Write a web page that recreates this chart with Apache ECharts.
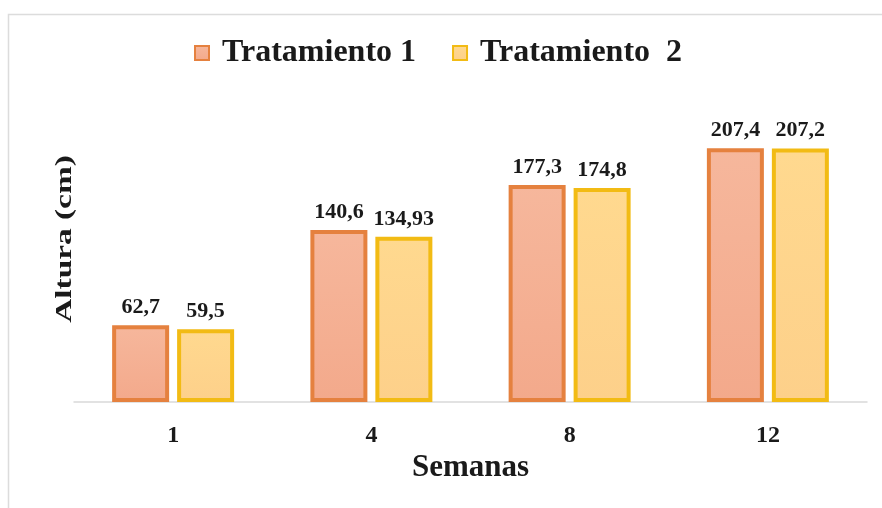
<!DOCTYPE html>
<html>
<head>
<meta charset="utf-8">
<script src="https://cdn.jsdelivr.net/npm/echarts@6/dist/echarts.min.js"></script>
<style>html,body{margin:0;padding:0;background:#fff;}#c{width:882px;height:508px;}</style>
</head>
<body>
<div id="c"></div>
<script>
var categories = ['1', '4', '8', '12'];
var seriesNames = ['Tratamiento 1', 'Tratamiento  2'];
var tratamiento1 = [62.7, 140.6, 177.3, 207.4];
var tratamiento2 = [59.5, 134.93, 174.8, 207.2];

var serif = '"Liberation Serif", "Times New Roman", serif';
var chart = echarts.init(document.getElementById('c'));
function lbl(p) { return String(p.value).replace('.', ','); }
function grad(top, bottom) {
  return new echarts.graphic.LinearGradient(0, 0, 0, 1, [{offset: 0, color: top}, {offset: 1, color: bottom}]);
}
chart.setOption({
  backgroundColor: '#ffffff',
  animation: false,
  graphic: [
    {type: 'rect', shape: {x: 8.5, y: 14.5, width: 900, height: 520}, style: {fill: 'none', stroke: '#dcdcdc', lineWidth: 1.5}, silent: true},
    {type: 'text', x: 65, y: 239, rotation: Math.PI / 2, scaleX: 1.45, scaleY: 1,
     style: {text: 'Altura (cm)', font: 'bold 23px ' + serif, fill: '#1a1a1a', align: 'center', verticalAlign: 'middle'}}
  ],
  legend: {
    top: 32, left: 189,
    itemWidth: 14, itemHeight: 14, itemGap: 36,
    icon: 'rect',
    textStyle: {fontFamily: serif, fontWeight: 'bold', fontSize: 32, color: '#1a1a1a', padding: [0, 0, 0, 8]},
    data: seriesNames
  },
  grid: {left: 74, right: 15, top: 96, bottom: 106},
  xAxis: {
    type: 'category', data: categories,
    axisLine: {lineStyle: {color: '#d9d9d9', width: 1.5}},
    axisTick: {show: false},
    axisLabel: {fontFamily: serif, fontWeight: 'bold', fontSize: 24, color: '#1a1a1a', margin: 22},
    name: 'Semanas', nameLocation: 'middle', nameGap: 50,
    nameTextStyle: {fontFamily: serif, fontWeight: 'bold', fontSize: 31, color: '#1a1a1a'}
  },
  yAxis: {
    type: 'value', min: 0, max: 250, show: false,
    splitLine: {show: false}
  },
  series: [
    {
      name: seriesNames[0], type: 'bar', data: tratamiento1, barWidth: 57, barGap: '14%',
      itemStyle: {color: grad('#f6b79c', '#f3a98b'), borderColor: '#e5813f', borderWidth: 4},
      label: {show: true, position: 'top', distance: 7, formatter: lbl, fontFamily: serif, fontWeight: 'bold', fontSize: 22, color: '#1a1a1a'}
    },
    {
      name: seriesNames[1], type: 'bar', data: tratamiento2, barWidth: 57,
      itemStyle: {color: grad('#ffd98f', '#fdd08a'), borderColor: '#f2bb14', borderWidth: 4},
      label: {show: true, position: 'top', distance: 7, formatter: lbl, fontFamily: serif, fontWeight: 'bold', fontSize: 22, color: '#1a1a1a'}
    }
  ]
});
</script>
</body>
</html>
